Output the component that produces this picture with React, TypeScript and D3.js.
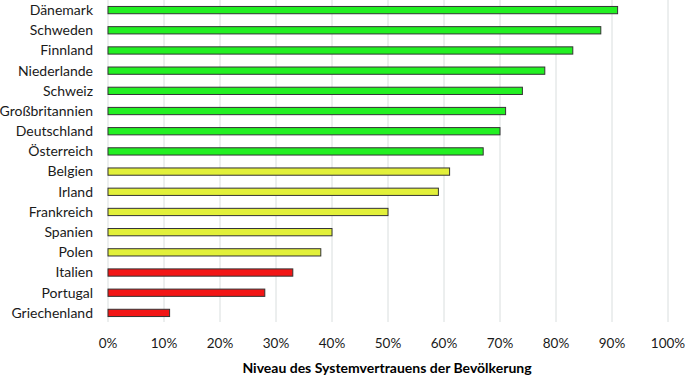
import React from "react";
import * as d3 from "d3";

const countries = ["Dänemark","Schweden","Finnland","Niederlande","Schweiz","Großbritannien","Deutschland","Österreich","Belgien","Irland","Frankreich","Spanien","Polen","Italien","Portugal","Griechenland"];
const values = [91,88,83,78,74,71,70,67,61,59,50,40,38,33,28,11];
const groups = ["g","g","g","g","g","g","g","g","y","y","y","y","y","r","r","r"];
const ticks = [0,10,20,30,40,50,60,70,80,90,100];
const colorMap: Record<string,string> = { g: "#22f022", y: "#e2f03a", r: "#f21616" };

export default function App() {
  const W = 685, H = 377;
  const x = d3.scaleLinear().domain([0, 100]).range([108, 668]);
  const y = d3.scaleBand<string>().domain(countries).range([0, 323]).paddingInner(0.64).paddingOuter(0.32);
  const font = "Lato, Open Sans, sans-serif";
  return (
    <svg width={W} height={H} style={{ position: "absolute", left: 0, top: 0 }}>
      <rect width={W} height={H} fill="#fff" />
      {ticks.map(t => (
        <line key={t} x1={x(t)} x2={x(t)} y1={0} y2={322} stroke="#d9dede" strokeWidth={1} />
      ))}
      {countries.map((c, i) => (
        <g key={c}>
          <rect x={x(0)} y={y(c)!} width={x(values[i]) - x(0)} height={y.bandwidth()}
            fill={colorMap[groups[i]]} stroke="#333" strokeWidth={1} />
          <text x={93} y={y(c)! + y.bandwidth() / 2} dy="0.35em" textAnchor="end"
            fontFamily={font} fontSize={14} fill="#1a1a1a">{c}</text>
        </g>
      ))}
      {ticks.map(t => (
        <text key={t} x={x(t)} y={343} dy="0.35em" textAnchor="middle" fontFamily={font} fontSize={13.5} fill="#1a1a1a">{t}%</text>
      ))}
      <text x={387} y={373} textAnchor="middle" fontFamily={font} fontSize={14} fontWeight="bold" fill="#000">Niveau des Systemvertrauens der Bevölkerung</text>
    </svg>
  );
}
